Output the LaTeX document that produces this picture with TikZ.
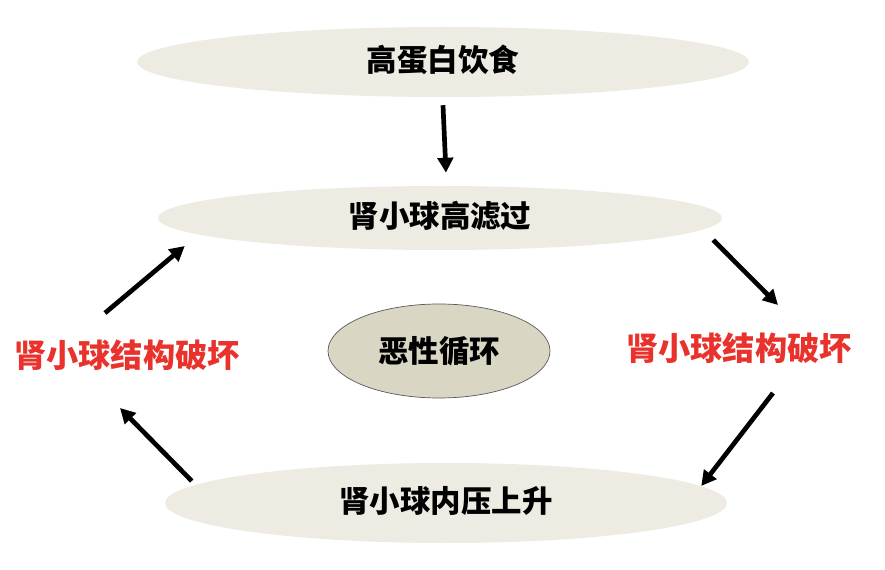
\documentclass[tikz,border=0pt]{standalone}
\usepackage{fontspec}
\usepackage{xcolor}
\usepackage{tikz}
\usetikzlibrary{arrows.meta,shapes.geometric,calc}
\newfontfamily\cjk{Noto Sans CJK SC}
\definecolor{sand}{HTML}{EDEBE2}
\definecolor{khaki}{HTML}{DAD6C4}
\definecolor{alert}{HTML}{E8322B}

\begin{document}
\begin{tikzpicture}[x=0.03cm,y=-0.03cm,
  oval/.style={ellipse,fill=sand,inner sep=0pt,text height=1.75em,text depth=0.05em,font=\cjk\bfseries\fontsize{26}{30}\selectfont},
  core/.style={ellipse,draw=black!65,fill=khaki,line width=0.6pt,minimum width=6.66cm,minimum height=2.82cm,inner sep=0pt,font=\cjk\bfseries\fontsize{26}{30}\selectfont},
  warn/.style={text=alert,inner sep=0pt,font=\cjk\bfseries\fontsize{27.5}{32}\selectfont},
  ar/.style={-{Triangle[length=4.5mm,width=4.6mm]},line width=4pt}]
  \useasboundingbox (0,0) rectangle (885,570);
  \node[oval,minimum width=18.36cm,minimum height=2.1cm] (diet) at (443,62) {高蛋白饮食};
  \node[oval,minimum width=16.92cm,minimum height=1.92cm] (hyper) at (440,218) {肾小球高滤过};
  \node[core] (loop) at (439,351) {恶性循环};
  \node[oval,minimum width=16.86cm,minimum height=2.4cm] (press) at (446,503) {肾小球内压上升};
  \node[warn] (ldmg) at (127,355) {肾小球结构破坏};
  \node[warn] (rdmg) at (739,348) {肾小球结构破坏};
  % the cycle
  \draw[ar] ($(diet.south)+(0,8)$) -- ($(hyper.north)+(6,-13)$);
  \draw[ar] ($(hyper.east)+(-9,22)$) -- ($(rdmg)+(39,-43)$);
  \draw[ar] ($(rdmg)+(34,45)$) -- ($(press.east)+(-26,-17)$);
  \draw[ar] ($(press.west)+(27,-22)$) -- ($(ldmg)+(-7,53)$);
  \draw[ar] ($(ldmg)+(-22,-42)$) -- ($(hyper.west)+(27,28)$);
\end{tikzpicture}
\end{document}
